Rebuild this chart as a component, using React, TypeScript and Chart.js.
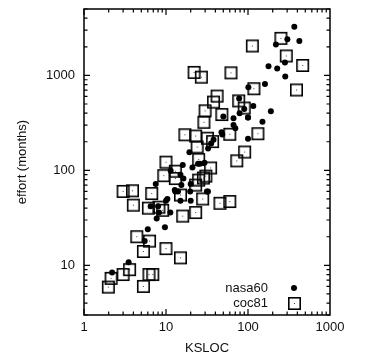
import { useEffect, useRef } from "react";
import { Chart, registerables } from "chart.js";

Chart.register(...registerables);

const seriesNames = ["nasa60", "coc81"];
const xTitle = "KSLOC";
const yTitle = "effort (months)";
const xTickLabels = [1, 10, 100, 1000];
const yTickLabels = [10, 100, 1000];
const xRange = [1, 1000];
const yRange = [3, 5000];

const nasa60Ksloc = [
  25.9, 24.6, 7.7, 8.2, 9.7, 2.2, 3.5, 66.6, 7.5, 20, 6, 100, 11.3, 100, 20,
  100, 150, 31.5, 15, 32.5, 19.7, 66.6, 29.5, 15, 38, 10, 15.4, 48.5, 16.3, 12.8,
  32.6, 35.5, 5.5, 10.4, 14, 6.5, 13, 90, 8, 16, 177.9, 302, 282.1, 284.7, 79,
  423, 190, 47.5, 21, 78, 11.4, 19.3, 101, 219, 50, 227, 70, 367, 161, 116,
];
const nasa60Effort = [
  117.6, 117.6, 31.2, 36, 25.2, 8.4, 10.8, 352.8, 72, 72, 24, 360, 36, 215, 48,
  360, 324, 60, 48, 60, 60, 300, 120, 90, 210, 48, 70, 239, 82, 62,
  170, 192, 18, 50, 60, 42, 60, 444, 42, 114, 1248, 2400, 1368, 973, 400,
  2300, 420, 252, 107, 571.4, 98.8, 155, 750, 2120, 370, 1181, 278, 3250, 813, 477,
];

const coc81Ksloc = [
  113, 293, 132, 60, 16, 4, 6.9, 22, 30, 29, 32, 37, 25, 3, 3.9,
  6.1, 3.6, 252, 118, 77, 90, 38, 48, 9.4, 13, 2.14, 1.98, 62, 390, 42,
  23, 13, 15, 60, 15, 6.2, 3, 5.3, 45.5, 28.6, 30.6, 35, 73, 23, 464,
  91, 24, 10, 8.2, 5.3, 4.4, 6.3, 27, 17, 25, 23, 6.7, 28, 9.1, 10,
];
const coc81Effort = [
  2040, 1600, 243, 240, 33, 43, 8, 1075, 423, 321, 218, 201, 79, 60, 61,
  40, 9, 2455, 724, 539, 453, 523, 387, 88, 98, 7.3, 5.9, 1063, 702, 605,
  230, 82, 55, 47, 12, 8, 8, 6, 45, 83, 87, 106, 126, 36, 1272,
  156, 176, 122, 41, 14, 20, 18, 958, 237, 130, 70, 57, 50, 38, 15,
];

const FONT = '"Liberation Sans", Arial, Helvetica, sans-serif';
const INK = "#111";

function makeSquare(): HTMLCanvasElement {
  const c = document.createElement("canvas");
  c.width = 15;
  c.height = 15;
  const g = c.getContext("2d")!;
  g.strokeStyle = "#000";
  g.lineWidth = 1.6;
  g.strokeRect(1.8, 1.8, 11.4, 11.4);
  g.fillStyle = "#444";
  g.fillRect(7, 7, 1, 1);
  return c;
}

export default function App() {
  const ref = useRef<HTMLCanvasElement | null>(null);

  useEffect(() => {
    if (!ref.current) return;
    const square = makeSquare();

    const framePlugin = {
      id: "frameTicks",
      afterDraw(chart: any) {
        const { ctx, chartArea: a, scales } = chart;
        const xs = scales.x;
        const ys = scales.y;
        ctx.save();
        ctx.strokeStyle = "#000";
        ctx.lineWidth = 1.2;
        const major = 6;
        const minor = 3.5;
        for (let d = xRange[0]; d < xRange[1]; d *= 10) {
          for (let m = 1; m <= 9; m++) {
            const v = d * m;
            if (v < xRange[0] || v > xRange[1]) continue;
            const px = xs.getPixelForValue(v);
            const len = m === 1 ? major : minor;
            ctx.beginPath();
            ctx.moveTo(px, a.bottom);
            ctx.lineTo(px, a.bottom - len);
            ctx.moveTo(px, a.top);
            ctx.lineTo(px, a.top + len);
            ctx.stroke();
          }
        }
        for (let d = 1; d <= 1000; d *= 10) {
          for (let m = 1; m <= 9; m++) {
            const v = d * m;
            if (v < yRange[0] || v > yRange[1]) continue;
            const py = ys.getPixelForValue(v);
            const len = m === 1 ? major : minor;
            ctx.beginPath();
            ctx.moveTo(a.left, py);
            ctx.lineTo(a.left + len, py);
            ctx.moveTo(a.right, py);
            ctx.lineTo(a.right - len, py);
            ctx.stroke();
          }
        }
        ctx.lineWidth = 1.5;
        ctx.strokeRect(a.left, a.top, a.right - a.left, a.bottom - a.top);

        ctx.fillStyle = INK;
        ctx.font = `13px ${FONT}`;
        ctx.textAlign = "right";
        ctx.textBaseline = "middle";
        const tx = a.right - 62;
        const sx = a.right - 36;
        const y1 = a.bottom - 27;
        const y2 = a.bottom - 12;
        ctx.fillText(seriesNames[0], tx, y1);
        ctx.fillText(seriesNames[1], tx, y2);
        ctx.fillStyle = "#000";
        ctx.beginPath();
        ctx.arc(sx, y1, 3, 0, Math.PI * 2);
        ctx.fill();
        ctx.drawImage(square, Math.round(sx - 7.5), Math.round(y2 - 7.5));
        ctx.restore();
      },
    };

    const chart = new Chart(ref.current, {
      type: "scatter",
      data: {
        datasets: [
          {
            label: seriesNames[0],
            data: nasa60Ksloc.map((x, i) => ({ x, y: nasa60Effort[i] })),
            pointStyle: "circle",
            pointRadius: 3,
            backgroundColor: "#000",
            borderWidth: 0,
            order: 0,
          },
          {
            label: seriesNames[1],
            data: coc81Ksloc.map((x, i) => ({ x, y: coc81Effort[i] })),
            pointStyle: square as any,
            pointRadius: 7,
            backgroundColor: "#000",
            borderWidth: 0,
            order: 1,
          },
        ],
      },
      options: {
        responsive: false,
        animation: false,
        events: [],
        layout: { padding: { left: 0, right: 36, top: 9, bottom: 0 } },
        plugins: {
          legend: { display: false },
          tooltip: { enabled: false },
        },
        scales: {
          x: {
            type: "logarithmic",
            min: xRange[0],
            max: xRange[1],
            grid: { display: false, drawTicks: false },
            border: { display: false },
            afterBuildTicks: (s: any) => {
              s.ticks = xTickLabels.map((v) => ({ value: v }));
            },
            afterFit: (s: any) => {
              s.height = 43;
              s.paddingLeft = 0;
              s.paddingRight = 0;
            },
            ticks: {
              autoSkip: false,
              maxRotation: 0,
              padding: 5,
              color: INK,
              font: { family: FONT, size: 13 },
              callback: (v: any) => String(v),
            },
            title: {
              display: true,
              text: xTitle,
              color: INK,
              font: { family: FONT, size: 13 },
              padding: { top: 0, bottom: 2 },
            },
          },
          y: {
            type: "logarithmic",
            min: yRange[0],
            max: yRange[1],
            grid: { display: false, drawTicks: false },
            border: { display: false },
            afterBuildTicks: (s: any) => {
              s.ticks = yTickLabels.map((v) => ({ value: v }));
            },
            afterFit: (s: any) => {
              s.width = 84;
              s.paddingTop = 0;
              s.paddingBottom = 0;
            },
            ticks: {
              autoSkip: false,
              padding: 9,
              color: INK,
              font: { family: FONT, size: 13 },
              callback: (v: any) => String(v),
            },
            title: {
              display: true,
              text: yTitle,
              color: INK,
              font: { family: FONT, size: 13 },
              padding: { top: 15, bottom: 0 },
            },
          },
        },
      },
      plugins: [framePlugin],
    } as any);

    return () => chart.destroy();
  }, []);

  return (
    <div style={{ position: "fixed", left: 0, top: 0, width: 366, height: 358, background: "#fff" }}>
      <canvas ref={ref} width={366} height={358} style={{ display: "block" }} />
    </div>
  );
}
